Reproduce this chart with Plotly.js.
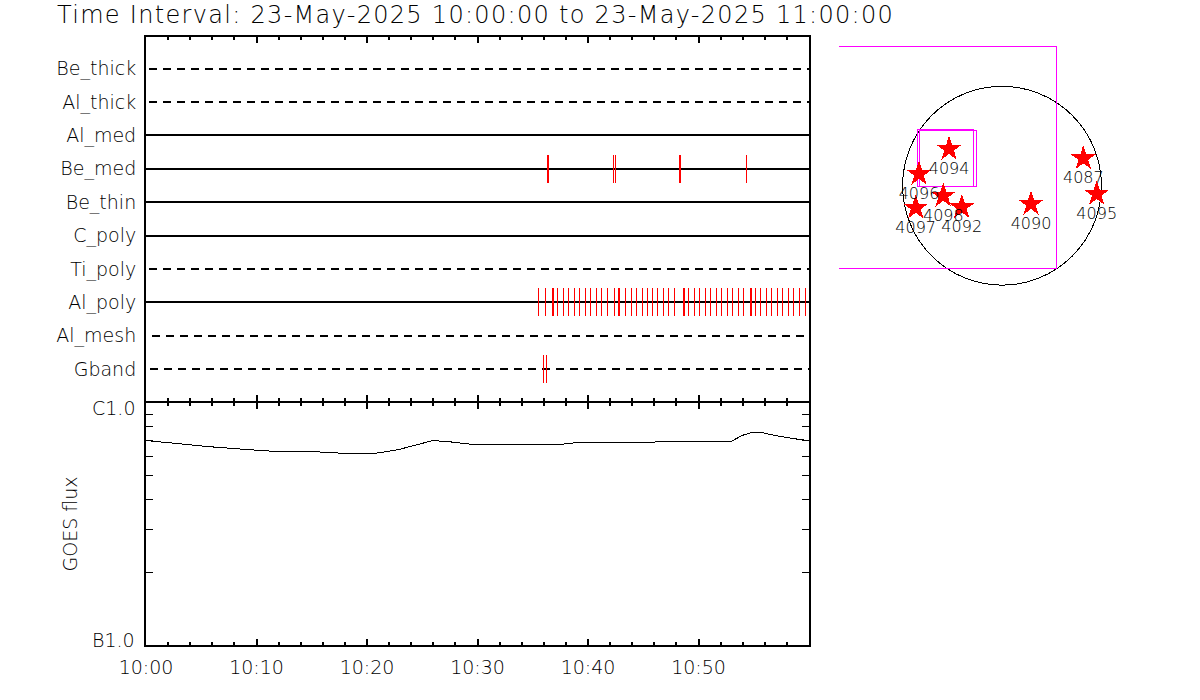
<!DOCTYPE html>
<html>
<head>
<meta charset="utf-8">
<script src="https://cdn.plot.ly/plotly-3.0.1.min.js"></script>
<style>
html,body{margin:0;padding:0;background:#fff}
#chart{width:1200px;height:700px}
.main-svg path{shape-rendering:crispEdges !important}
.gtitle{letter-spacing:1.3px}
</style>
</head>
<body>
<div id="chart"></div>
<script>
const titleText = 'Time Interval: 23-May-2025 10:00:00 to 23-May-2025 11:00:00';
const channels = ['Be_thick','Al_thick','Al_med','Be_med','Be_thin','C_poly','Ti_poly','Al_poly','Al_mesh','Gband'];
const channelDash = ['dash','dash','solid','solid','solid','solid','dash','solid','dash','dash'];
const channelStart = [0.3,0.3,0,0,0,0,0.3,0,0.54,0.36];
const channelEnd = [60,60,60,60,60,60,60,60,59.55,60];

// observation times, minutes after 10:00
const beMedTimes = [36.35,36.44,42.32,42.50,48.24,48.33,54.32];
const alPolyTimes = [35.52,36.15,36.76,36.85,37.23,37.77,38.23,38.77,39.22,39.76,40.21,40.75,41.20,41.74,42.37,42.79,42.88,43.36,43.90,44.35,44.89,45.34,45.88,46.33,46.87,47.32,47.86,48.65,48.74,49.13,49.67,50.12,50.66,51.11,51.65,52.10,52.64,53.09,53.63,54.08,54.73,54.82,55.16,55.65,56.15,56.60,57.14,57.59,58.14,58.59,59.13,59.67];
const gbandTimes = [36.01,36.25];

const goesTimes = [0,2.6,5.7,8.6,11.6,14.7,16.5,18.6,20.5,22.8,24.6,26.0,27.8,29.8,33.4,36.6,37.3,38.8,41.5,44.5,45.4,46.7,50.5,53.0,53.9,54.8,55.7,56.8,58.4,60];
const goesFlux = [7.00,6.80,6.60,6.45,6.31,6.31,6.25,6.17,6.17,6.41,6.74,7.00,6.89,6.72,6.74,6.76,6.72,6.85,6.89,6.89,6.85,6.95,6.95,6.95,7.33,7.56,7.56,7.36,7.15,6.98].map(v=>v*1e-6);

const timeTicks = [0,10,20,30,40,50,60];
const timeLabels = ['10:00','10:10','10:20','10:30','10:40','10:50',''];
const fluxTicks = [1e-6,2e-6,3e-6,4e-6,5e-6,6e-6,7e-6,8e-6,9e-6,1e-5];
const fluxLabels = ['B1.0','C1.0'];

// active regions on the solar disk, arcsec
const regionNames = ['4094','4096','4098','4092','4097','4090','4087','4095'];
const regionX = [-506,-793,-561,-385,-825,277,777,905];
const regionY = [351,112,-96,-206,-210,-175,262,-79];
const sunRadius = 950;
const fovX = [-1558,521,521,-1558];
const fovY = [1330,1330,-791,-791];
const box1X = [-806,-268,-268,-806,-806];
const box1Y = [539,539,-3,-3,539];
const box2X = [-790,-248,-248,-790,-790];
const box2Y = [528,528,-12,-12,528];

const FONT = '"DejaVu Sans", sans-serif';
const WEIGHT = 200;
const MAGENTA = '#ff00ff';
const W = 1200, H = 700;
const fx = p => p / W, fy = p => (H - p) / H;
const txt = size => ({family:FONT, size, color:'#000', weight:WEIGHT});

const traces = [];
channels.forEach((name, i) => {
  const row = channels.length - i;
  traces.push({x:[channelStart[i],channelEnd[i]], y:[row,row], xaxis:'x', yaxis:'y', mode:'lines', hoverinfo:'skip',
    line:{color:'#000', width:2, dash: channelDash[i]==='dash' ? '8px,6px' : 'solid'}});
});
[['Be_med',beMedTimes],['Al_poly',alPolyTimes],['Gband',gbandTimes]].forEach(([name,times]) => {
  const row = channels.length - channels.indexOf(name);
  traces.push({x:times, y:times.map(()=>row), xaxis:'x', yaxis:'y', mode:'markers', name,
    marker:{symbol:'line-ns', size:20, color:'#ff0000', line:{color:'#ff0000', width:1}}});
});
traces.push({x:goesTimes, y:goesFlux, xaxis:'x2', yaxis:'y2', mode:'lines', line:{color:'#000', width:1}});
traces.push({x:fovX, y:fovY, xaxis:'x3', yaxis:'y3', mode:'lines', line:{color:MAGENTA, width:1}});
traces.push({x:box1X, y:box1Y, xaxis:'x3', yaxis:'y3', mode:'lines', line:{color:MAGENTA, width:1}});
traces.push({x:box2X, y:box2Y, xaxis:'x3', yaxis:'y3', mode:'lines', line:{color:MAGENTA, width:1}});
traces.push({x:regionX, y:regionY, text:regionNames, xaxis:'x3', yaxis:'y3', mode:'markers+text',
  textposition:'bottom center', cliponaxis:false,
  textfont:txt(16),
  marker:{symbol:'star', size:19, color:'#ff0000', line:{width:0}}});

const timeAxis = {
  range:[0,60], tickmode:'array', tickvals:timeTicks, ticktext:timeLabels,
  ticks:'inside', ticklen:6, tickwidth:2, tickcolor:'#000',
  showgrid:false, zeroline:false, showline:true, linecolor:'#000', linewidth:2, mirror:'ticks',
  minor:{dtick:2, tick0:0, ticks:'inside', ticklen:3, tickwidth:2, tickcolor:'#000', showgrid:false}
};

const layout = {
  width:W, height:H, showlegend:false, paper_bgcolor:'#fff', plot_bgcolor:'#fff',
  margin:{l:0,r:0,t:0,b:0},
  font:{family:FONT, color:'#000'},
  title:{text:titleText, x:fx(57), xref:'paper', xanchor:'left', y:fy(15), yref:'paper', yanchor:'middle',
    font:txt(24)},
  xaxis:Object.assign({}, timeAxis, {domain:[fx(146),fx(809)], anchor:'y', showticklabels:false}),
  yaxis:{domain:[fy(401),fy(37)], anchor:'x', range:[0.045,10.945],
    tickmode:'array', tickvals:channels.map((c,i)=>channels.length-i), ticktext:channels,
    ticks:'', ticklabelstandoff:4, tickfont:txt(19),
    showgrid:false, zeroline:false, showline:true, linecolor:'#000', linewidth:2, mirror:true},
  xaxis2:Object.assign({}, timeAxis, {domain:[fx(146),fx(809)], anchor:'y2',
    ticklabelstandoff:4, tickfont:txt(19)}),
  yaxis2:{domain:[fy(645),fy(403)], anchor:'x2', type:'log', range:[-6,-5],
    tickmode:'array', tickvals:fluxTicks, ticktext:fluxTicks.map(()=>''),
    ticks:'inside', ticklen:7, tickwidth:1, tickcolor:'#000', showticklabels:false,
    showgrid:false, zeroline:false, showline:true, linecolor:'#000', linewidth:2, mirror:'ticks',
    title:{text:'GOES flux', standoff:61, font:txt(19)}},
  xaxis3:{domain:[fx(830),fx(1110)], anchor:'y3', range:[-1644,1032], visible:false},
  yaxis3:{domain:[fy(300),fy(30)], anchor:'x3', range:[-1092,1488], visible:false},
  shapes:[{type:'circle', xref:'x3', yref:'y3', x0:-sunRadius, x1:sunRadius, y0:-sunRadius, y1:sunRadius,
    line:{color:'#000', width:1}, layer:'below'}],
  annotations:[
    {text:fluxLabels[0], xref:'paper', yref:'paper', x:fx(137), y:fy(640), xanchor:'right', yanchor:'middle', showarrow:false, font:txt(19)},
    {text:fluxLabels[1], xref:'paper', yref:'paper', x:fx(137), y:fy(408), xanchor:'right', yanchor:'middle', showarrow:false, font:txt(19)}
  ]
};
Plotly.newPlot('chart', traces, layout, {displayModeBar:false, staticPlot:true});
</script>
</body>
</html>
